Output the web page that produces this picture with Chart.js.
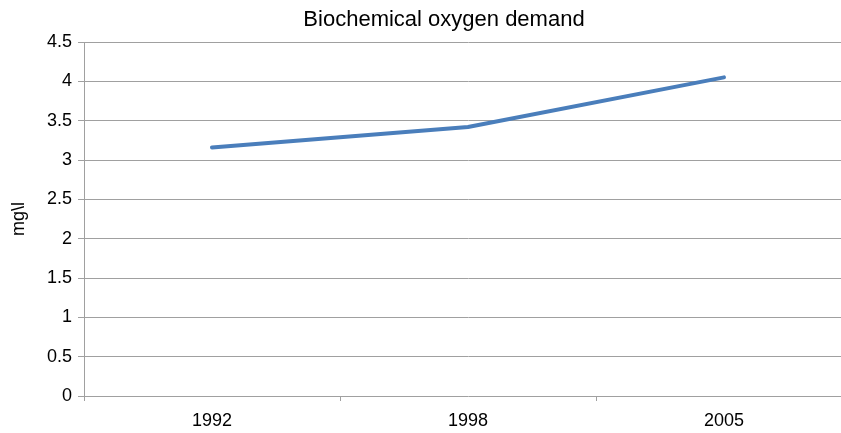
<!DOCTYPE html>
<html>
<head>
<meta charset="utf-8">
<script src="https://cdn.jsdelivr.net/npm/chart.js@4"></script>
<style>
  html, body { margin: 0; padding: 0; background: #fff; overflow: hidden; }
  #wrap { width: 888px; height: 433px; position: relative; }
</style>
</head>
<body>
<div id="wrap"><canvas id="c"></canvas></div>
<script>
const categories = ["1992", "1998", "2005"];
const bodValues = [3.16, 3.42, 4.05];
const yTicks = [0, 0.5, 1, 1.5, 2, 2.5, 3, 3.5, 4, 4.5];
const chartTitle = "Biochemical oxygen demand";
const yAxisTitle = "mg\\l";

const FONT = "'Liberation Sans', Arial, Helvetica, sans-serif";
const GRID = "#a0a0a0";

new Chart(document.getElementById("c"), {
  type: "line",
  data: {
    labels: categories,
    datasets: [{
      label: "BOD",
      data: bodValues,
      borderColor: "#4a7ebb",
      borderWidth: 4,
      pointRadius: 0,
      tension: 0,
      fill: false,
      borderCapStyle: "round",
      borderJoinStyle: "round",
      yAxisID: "y"
    }]
  },
  options: {
    responsive: true,
    maintainAspectRatio: false,
    animation: false,
    layout: { padding: 0 },
    plugins: {
      legend: { display: false },
      tooltip: { enabled: false },
      title: {
        display: true,
        text: chartTitle,
        color: "#000",
        font: { family: FONT, size: 22, weight: "normal", lineHeight: 1.2 },
        padding: { top: 7, bottom: 8.6 }
      }
    },
    scales: {
      x: {
        offset: true,
        grid: { display: true, drawOnChartArea: false, drawTicks: true, tickLength: 5, offset: true, color: GRID, lineWidth: 1 },
        border: { display: false },
        ticks: { color: "#000", font: { family: FONT, size: 18 }, padding: 9, maxRotation: 0 },
        afterFit: (s) => { s.height = 37; }
      },
      y: {
        min: 0,
        max: 4.5,
        afterBuildTicks: (s) => { s.ticks = yTicks.map(v => ({ value: v })); },
        grid: { color: GRID, lineWidth: 1, tickLength: 6, drawTicks: true },
        border: { display: true, color: GRID, width: 1 },
        ticks: {
          color: "#000",
          font: { family: FONT, size: 18 },
          padding: 6,
          callback: (v) => String(v)
        },
        title: {
          display: true,
          text: yAxisTitle,
          color: "#000",
          font: { family: FONT, size: 18 },
          padding: { top: 8, bottom: 0 }
        },
        afterFit: (s) => { s.width = 84; }
      },
      yRight: {
        position: "right",
        display: true,
        min: 0,
        max: 4.5,
        grid: { display: false, drawTicks: false },
        border: { display: false },
        ticks: { display: false },
        afterFit: (s) => { s.width = 36; }
      }
    }
  }
});
</script>
</body>
</html>
